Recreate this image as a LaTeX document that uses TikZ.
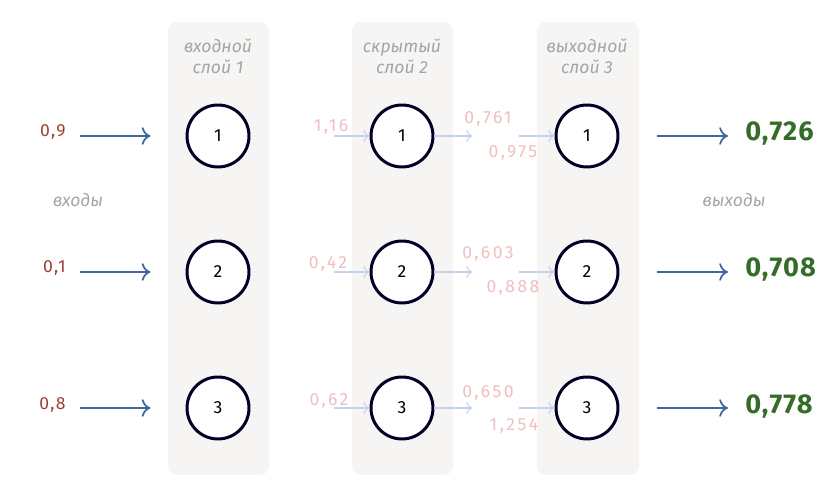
\documentclass[tikz,border=0pt]{standalone}
\usepackage{fontspec}
\setmainfont{Fira Sans}
\usepackage{tikz}
\usetikzlibrary{arrows.meta, positioning}

\definecolor{bandgray}{RGB}{246,245,243}
\definecolor{inred}{RGB}{160,62,52}
\definecolor{arrowblue}{RGB}{62,102,160}
\definecolor{outgreen}{RGB}{52,108,40}
\definecolor{labelgray}{RGB}{165,165,165}
\definecolor{fadepink}{RGB}{240,190,190}
\definecolor{fadeblue}{RGB}{196,210,236}

\begin{document}
\begin{tikzpicture}[x=0.02cm, y=-0.02cm,
    neuron/.style={circle, draw=black!85!blue, line width=1.7pt, fill=white,
        minimum size=1.24cm, inner sep=0pt, font=\fontsize{10}{11}\selectfont},
    layerband/.style={fill=bandgray, rounded corners=5pt},
    layername/.style={text=labelgray, align=center, font=\itshape\fontsize{10}{12}\selectfont},
    sidename/.style={text=labelgray, font=\itshape\fontsize{10}{12}\selectfont},
    inval/.style={text=inred, inner sep=0pt, font=\fontsize{10}{11}\selectfont\addfontfeature{LetterSpace=8}},
    outval/.style={text=outgreen, inner sep=0pt, font=\bfseries\fontsize{15.5}{17}\selectfont\addfontfeature{LetterSpace=4}},
    fadeval/.style={text=fadepink, inner sep=0pt, font=\fontsize{10}{11}\selectfont\addfontfeature{LetterSpace=14}},
    inarrow/.style={draw=arrowblue, line width=1pt, -{To[length=5pt, width=10pt]}},
    fadearrow/.style={draw=fadeblue, line width=0.6pt, -{To[length=3.5pt, width=7pt]}}]
                        \useasboundingbox (0, 0) rectangle (840, 492);

                        % layer bands
                        \fill[layerband] (168, 22) rectangle (269, 475);
                        \fill[layerband] (352, 22) rectangle (453, 475);
                        \fill[layerband] (537, 22) rectangle (639, 475);

                        \node[layername] (l1) at (218, 56) {входной\\слой 1};
                        \node[layername] (l2) at (402, 56) {скрытый\\слой 2};
                        \node[layername] (l3) at (587, 56) {выходной\\слой 3};

                        % neurons
                        \node[neuron] (n11) at (218, 136) {1};
                        \node[neuron] (n12) at (218, 272) {2};
                        \node[neuron] (n13) at (218, 408) {3};
                        \node[neuron] (n21) at (402, 136) {1};
                        \node[neuron] (n22) at (402, 272) {2};
                        \node[neuron] (n23) at (402, 408) {3};
                        \node[neuron] (n31) at (587, 136) {1};
                        \node[neuron] (n32) at (587, 272) {2};
                        \node[neuron] (n33) at (587, 408) {3};

                        % inputs and outputs
                        \node[inval, anchor=east] (x1) at (66, 132) {0,9};
                        \node[inval, anchor=east] (x2) at (66, 268) {0,1};
                        \node[inval, anchor=east] (x3) at (66, 405) {0,8};
                        \node[sidename] (xin) at (78, 200) {входы};

                        \node[outval, anchor=west] (y1) at (745, 134) {0,726};
                        \node[outval, anchor=west] (y2) at (745, 270) {0,708};
                        \node[outval, anchor=west] (y3) at (745, 407) {0,778};
                        \node[sidename] (yout) at (734, 200) {выходы};

                        \draw[inarrow, shorten <=0.28cm, shorten >=0.7cm] (x1.east |- n11) -- (n11);
                        \draw[inarrow, shorten <=0.28cm, shorten >=0.7cm] (x2.east |- n12) -- (n12);
                        \draw[inarrow, shorten <=0.28cm, shorten >=0.7cm] (x3.east |- n13) -- (n13);
                        \draw[inarrow, shorten <=0.76cm, shorten >=0.34cm] (n31) -- (y1.west |- n31);
                        \draw[inarrow, shorten <=0.76cm, shorten >=0.34cm] (n32) -- (y2.west |- n32);
                        \draw[inarrow, shorten <=0.76cm, shorten >=0.34cm] (n33) -- (y3.west |- n33);

                        % faded values between layers
                        \node[fadeval] (h1) at (331, 127) {1,16};
                        \node[fadeval] (h2) at (328, 264) {0,42};
                        \node[fadeval] (h3) at (329, 401) {0,62};
                        \node[fadeval] (o1) at (488, 119) {0,761};
                        \node[fadeval] (o2) at (488, 254) {0,603};
                        \node[fadeval] (o3) at (488, 393) {0,650};
                        \node[fadeval] (s1) at (513, 153) {0,975};
                        \node[fadeval] (s2) at (513, 288) {0,888};
                        \node[fadeval] (s3) at (514, 426) {1,254};

                        \draw[fadearrow] (n21.west) ++(-36, 0) -- (n21);
                        \draw[fadearrow] (n22.west) ++(-36, 0) -- (n22);
                        \draw[fadearrow] (n23.west) ++(-36, 0) -- (n23);
                        \draw[fadearrow] (n21.east) -- ++(38, 0);
                        \draw[fadearrow] (n22.east) -- ++(38, 0);
                        \draw[fadearrow] (n23.east) -- ++(38, 0);
                        \draw[fadearrow] (n31.west) ++(-36, 0) -- (n31);
                        \draw[fadearrow] (n32.west) ++(-36, 0) -- (n32);
                        \draw[fadearrow] (n33.west) ++(-36, 0) -- (n33);
                    \end{tikzpicture}
\end{document}
